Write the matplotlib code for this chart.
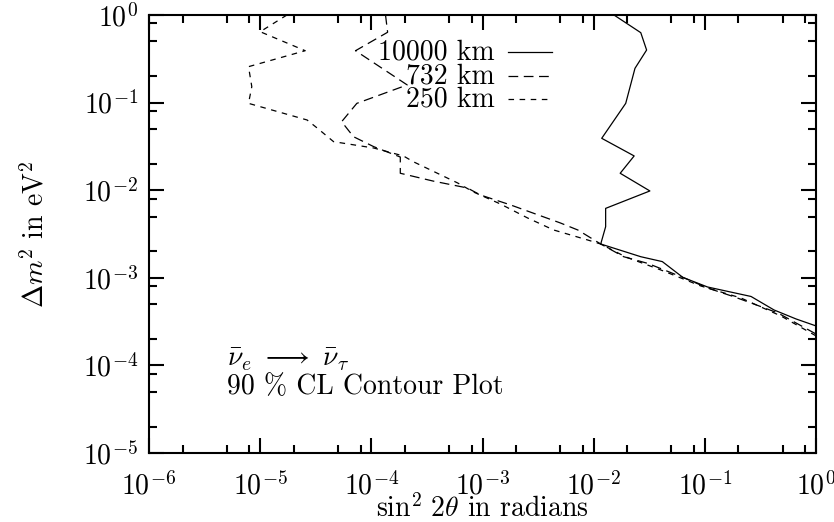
import matplotlib
matplotlib.use('Agg')
import matplotlib.pyplot as plt
import numpy as np
from matplotlib.ticker import LogLocator, FuncFormatter, NullFormatter

plt.rcParams['mathtext.fontset'] = 'cm'
plt.rcParams['font.family'] = ['cmr10', 'DejaVu Serif']
plt.rcParams['axes.unicode_minus'] = False
plt.rcParams['font.size'] = 20
plt.rcParams['lines.scale_dashes'] = False

# 90% CL contours, sin^2(2 theta) vs delta m^2 (eV^2), one per baseline
sin2_10000 = [0.0152, 0.0265, 0.0299, 0.0235, 0.0194, 0.0118, 0.0231, 0.0173,
              0.032, 0.0128, 0.0128, 0.01156, 0.0265, 0.0414, 0.0634, 0.1057,
              0.26, 0.419, 0.66, 1.0]
dm2_10000 = [1.0, 0.628, 0.398, 0.246, 0.098, 0.0391, 0.0246, 0.0156,
             0.0098, 0.0062, 0.00383, 0.00243, 0.00174, 0.00153, 0.00101, 0.000785,
             0.000612, 0.000429, 0.000339, 0.000282]

sin2_732 = [1.34e-4, 1.40e-4, 7.2e-5, 2.1e-4, 7.4e-5, 5.4e-5, 6.9e-5, 1.05e-4,
            1.82e-4, 1.82e-4, 3.6e-4, 7.3e-4, 9.6e-4, 1.79e-3, 5.0e-3, 7.2e-3,
            0.01156, 0.0186, 0.0306, 0.0647, 0.1057, 0.182, 0.26, 0.455, 1.0]
dm2_732 = [1.0, 0.635, 0.391, 0.159, 0.098, 0.0605, 0.0408, 0.0314,
           0.0239, 0.0156, 0.0127, 0.0106, 0.0088, 0.00678, 0.00423, 0.00351,
           0.00243, 0.00174, 0.00146, 0.00100, 0.000765, 0.000608, 0.000516, 0.000396, 0.000228]

sin2_250 = [1.74e-5, 1.0e-5, 2.54e-5, 7.85e-6, 8.4e-6, 7.85e-6, 2.64e-5, 3.25e-5,
            4.57e-5, 1.05e-4, 1.94e-4, 2.39e-4, 5.96e-4, 8.3e-4, 1.45e-3, 2.54e-3,
            4.37e-3, 8.83e-3, 0.01156, 0.0194, 0.040, 0.092, 0.211, 0.484, 1.0]
dm2_250 = [1.0, 0.644, 0.391, 0.257, 0.152, 0.098, 0.0633, 0.0513,
           0.0358, 0.0303, 0.0246, 0.0211, 0.0121, 0.00953, 0.00695, 0.00482,
           0.00351, 0.0027, 0.00243, 0.00173, 0.00123, 0.000806, 0.000588, 0.000366, 0.000217]

labels = ['10000 km', '732 km', '250 km']

fig = plt.figure(figsize=(8.34, 5.22), dpi=100)
ax = fig.add_axes([0.1787, 0.1322, 0.7998, 0.8391])

styles = [dict(ls='-'), dict(dashes=(7, 4)), dict(dashes=(4, 4))]
series = [(sin2_10000, dm2_10000), (sin2_732, dm2_732), (sin2_250, dm2_250)]
for (x, y), st in zip(series, styles):
    ax.plot(x, y, color='k', lw=0.9, **st)

ax.set_xscale('log')
ax.set_yscale('log')
ax.set_xlim(1e-6, 1)
ax.set_ylim(1e-5, 1)

fmt = FuncFormatter(lambda v, p: r'$10^{%d}$' % int(round(np.log10(v))))
for axis in (ax.xaxis, ax.yaxis):
    axis.set_major_locator(LogLocator(base=10, numticks=12))
    axis.set_minor_locator(LogLocator(base=10, subs=(2, 5, 8), numticks=12))
    axis.set_major_formatter(fmt)
    axis.set_minor_formatter(NullFormatter())

ax.tick_params(which='both', direction='in', top=True, right=True,
               width=1.5, colors='k', labelsize=20)
ax.tick_params(which='major', length=10.5)
ax.tick_params(which='minor', length=5.5)
ax.tick_params(axis='y', pad=8)
ax.tick_params(axis='x', pad=13.5)
for sp in ax.spines.values():
    sp.set_linewidth(1.5)

# key, gnuplot style: label on the left, line sample on the right
key_base = [60, 84, 107]
for lab, st, yb in zip(labels, styles, key_base):
    fy = 1 - (yb - 15) / 438
    ax.text(0.5187, fy, lab, transform=ax.transAxes,
            ha='right', va='baseline')
    ly = 1 - (yb - 8 - 15) / 438
    ax.plot([0.538, 0.604], [ly, ly], transform=ax.transAxes,
            color='k', lw=0.9, **st)

ax.text(0.117, 0.1986, r'$\bar{\nu}_e\ \longrightarrow\ \bar{\nu}_\tau$',
        transform=ax.transAxes, ha='left', va='baseline')
ax.text(0.117, 0.1347, '90 % CL Contour Plot',
        transform=ax.transAxes, ha='left', va='baseline')

ax.set_xlabel(r'$\sin^2\,2\theta$ in radians', labelpad=-4)
ax.set_ylabel(r'$\Delta m^2$ in eV$^2$', labelpad=24)

fig.savefig('out.png', dpi=100)
